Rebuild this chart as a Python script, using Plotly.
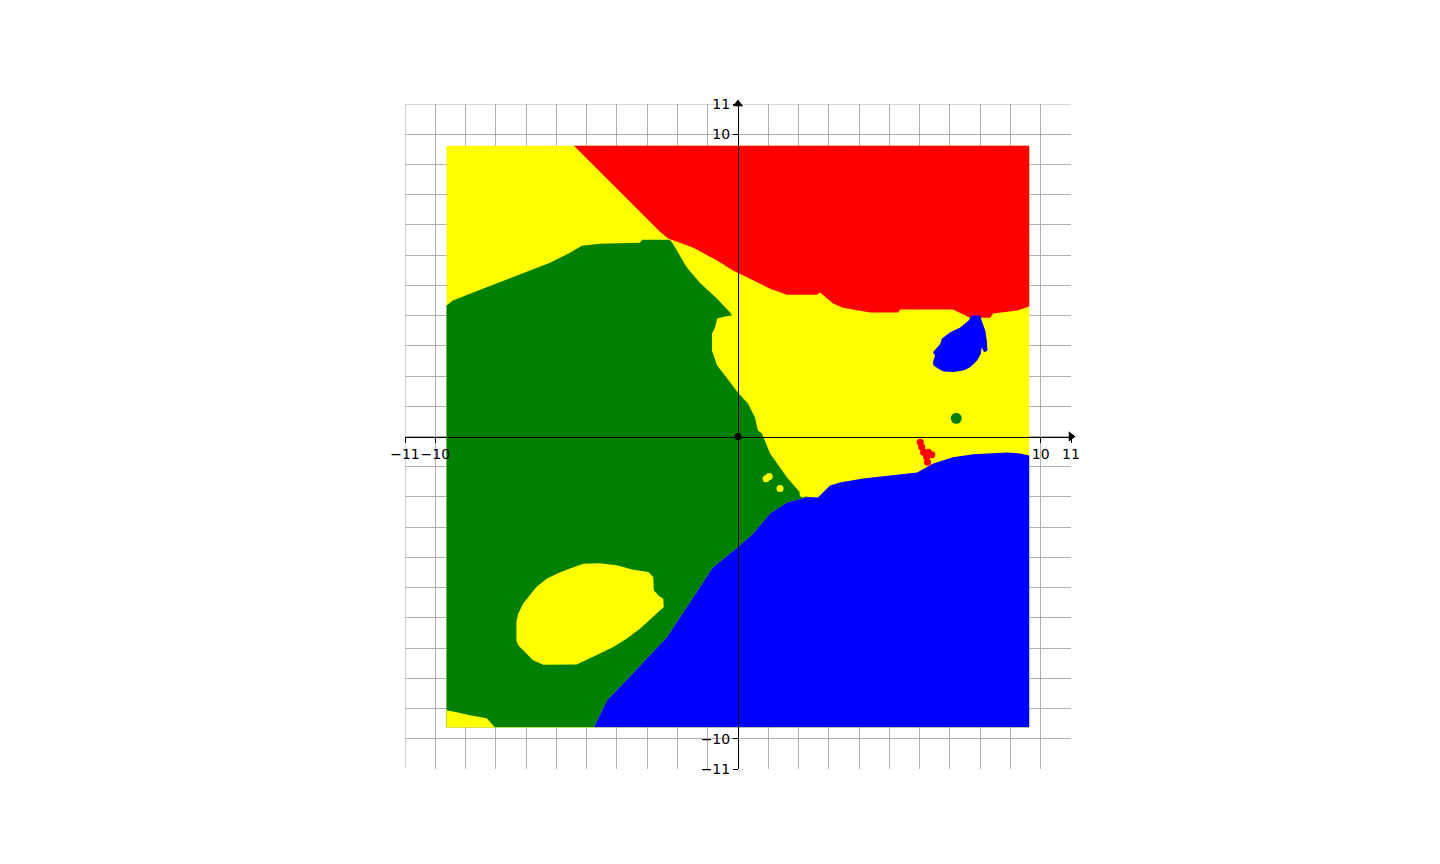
import plotly.graph_objects as go

# axis / ticks
axis_range = [-11, 11]
tick_vals = [-11, -10, 10, 11]

# extent of the classified grid
grid_lo, grid_hi = -9.63, 9.62

# class regions (polygon outlines)
red_x = [-5.42, -5.0, -4.5, -4.0, -3.5, -3.0, -2.6, -2.31, -1.49, -0.69, -0.17, 0.4, 1.06, 1.62,
         2.61, 2.71, 2.94, 3.14, 3.47, 4.36, 5.29, 5.36, 7.1, 7.67, 8.33, 8.43, 9.22, 9.62, 9.62]
red_y = [9.62, 9.2, 8.7, 8.2, 7.68, 7.17, 6.8, 6.55, 6.25, 5.82, 5.49, 5.22, 4.89, 4.69,
         4.69, 4.76, 4.56, 4.4, 4.26, 4.1, 4.1, 4.2, 4.2, 3.93, 3.93, 4.07, 4.17, 4.3, 9.62]

green_x = [-9.63, -9.42, -8.43, -7.31, -6.21, -5.55, -5.16, -4.56, -3.24, -3.17, -2.25, -2.15, -1.69,
           -1.26, -0.69, -0.26, -0.2, -0.43, -0.69, -0.76, -0.86, -0.86, -0.69, -0.43, -0.17, 0.0,
           0.33, 0.56, 0.66, 0.79, 1.06, 1.62, 2.05, 2.3,
           1.62, 1.06, 0.5, 0.07, -0.83, -1.49, -2.35, -3.47, -4.33, -4.76, -9.63]
green_y = [4.33, 4.5, 4.89, 5.32, 5.75, 6.08, 6.31, 6.38, 6.41, 6.51, 6.51, 6.38, 5.59,
           5.09, 4.56, 4.1, 4.0, 3.97, 3.9, 3.6, 3.4, 2.84, 2.35, 2.02, 1.69, 1.45,
           1.09, 0.63, 0.2, 0.1, -0.56, -1.36, -1.85, -2.0,
           -2.18, -2.55, -3.21, -3.6, -4.33, -5.32, -6.64, -7.83, -8.73, -9.62, -9.62]

blue_x = [-4.76, 9.62, 9.62, 9.32, 8.89, 8.23, 7.77, 7.1, 6.45, 5.92, 4.93, 4.13, 3.37, 3.04,
          2.64, 2.3, 1.62, 1.06, 0.5, 0.07, -0.83, -1.49, -2.35, -3.47, -4.33]
blue_y = [-9.62, -9.62, -0.63, -0.56, -0.53, -0.56, -0.59, -0.69, -0.89, -1.19, -1.29, -1.39, -1.52, -1.62,
          -2.02, -2.0, -2.18, -2.55, -3.21, -3.6, -4.33, -5.32, -6.64, -7.83, -8.73]

# yellow islands inside green
oval_x = [-7.32, -7.26, -7.10, -6.88, -6.66, -6.32, -5.99, -5.55, -5.11, -4.56, -4.01, -3.46, -2.96,
          -2.80, -2.78, -2.63, -2.47, -2.45, -2.80, -3.24, -3.68, -4.12, -4.56, -5.0, -5.33, -6.43,
          -6.77, -7.04, -7.26, -7.32]
oval_y = [-6.14, -5.86, -5.53, -5.26, -4.98, -4.71, -4.54, -4.37, -4.21, -4.19, -4.26, -4.41, -4.48,
          -4.65, -5.09, -5.26, -5.37, -5.64, -5.97, -6.36, -6.69, -6.96, -7.18, -7.40, -7.54, -7.55,
          -7.40, -7.13, -6.91, -6.74]
corner_x = [-9.63, -9.63, -9.29, -8.86, -8.3, -8.03]
corner_y = [-9.62, -9.06, -9.12, -9.22, -9.32, -9.62]

# blue island in the yellow region
island_x = [7.72, 8.0, 8.05, 8.17, 8.22, 8.24, 8.13, 8.05, 8.02, 7.89, 7.67, 7.45, 7.12, 6.79, 6.62,
            6.46, 6.44, 6.51, 6.44, 6.68, 6.73, 7.01, 7.34, 7.61]
island_y = [4.0, 4.0, 3.83, 3.5, 3.17, 2.84, 2.79, 2.95, 2.73, 2.51, 2.29, 2.18, 2.13, 2.15, 2.24,
            2.35, 2.46, 2.68, 2.79, 3.06, 3.23, 3.45, 3.61, 3.83]

# small stray points
red_pts_x = [6.02, 6.07, 6.13, 6.29, 6.40, 6.23, 6.26]
red_pts_y = [-0.19, -0.35, -0.52, -0.52, -0.60, -0.68, -0.85]
green_pts_x = [7.21]
green_pts_y = [0.6]
yellow_pts_x = [0.93, 1.03, 1.39, 2.15]
yellow_pts_y = [-1.4, -1.32, -1.72, -1.89]

GRID = "#b0b0b0"
fig = go.Figure()


def region(xs, ys, color):
    fig.add_trace(go.Scatter(x=xs, y=ys, fill="toself", fillcolor=color, mode="lines",
                             line=dict(width=0, color=color), hoverinfo="skip", showlegend=False))


def dots(xs, ys, color, size):
    fig.add_trace(go.Scatter(x=xs, y=ys, mode="markers", marker=dict(color=color, size=size, line=dict(width=0)),
                             hoverinfo="skip", showlegend=False))


region([grid_lo, grid_hi, grid_hi, grid_lo, grid_lo], [grid_lo, grid_lo, grid_hi, grid_hi, grid_lo], "yellow")
region(red_x, red_y, "red")
region(green_x, green_y, "green")
region(blue_x, blue_y, "blue")
region(oval_x, oval_y, "yellow")
region(corner_x, corner_y, "yellow")
region(island_x, island_y, "blue")
dots(red_pts_x, red_pts_y, "red", 7)
dots(green_pts_x, green_pts_y, "green", 11)
dots(yellow_pts_x, yellow_pts_y, "yellow", 7)

# origin dot and arrow heads
fig.add_trace(go.Scatter(x=[0], y=[0], mode="markers", marker=dict(color="black", size=7),
                         hoverinfo="skip", showlegend=False))
fig.add_trace(go.Scatter(x=[axis_range[1], 0], y=[0, axis_range[1]], mode="markers", cliponaxis=False,
                         marker=dict(color="black", size=9, symbol=["triangle-right", "triangle-up"]),
                         hoverinfo="skip", showlegend=False))

# outer grid lines on left and top edges (plotly skips them at the range limits)
fig.add_shape(type="line", x0=axis_range[0], x1=axis_range[0], y0=axis_range[0], y1=axis_range[1],
              line=dict(color=GRID, width=1), layer="below")
fig.add_shape(type="line", x0=axis_range[0], x1=axis_range[1], y0=axis_range[1], y1=axis_range[1],
              line=dict(color=GRID, width=1), layer="below")

tick_font = dict(family="DejaVu Sans", size=14, color="black")
common = dict(range=axis_range, anchor="free", position=0.5, showline=True, linecolor="black", linewidth=1,
              tickvals=tick_vals, ticks="outside", ticklen=5, tickcolor="black", tickfont=tick_font,
              tickangle=0, showgrid=True, gridcolor=GRID, gridwidth=1, zeroline=False, fixedrange=True,
              minor=dict(dtick=1, tick0=0, showgrid=True, gridcolor=GRID, gridwidth=1, ticks=""))

# page body adds 8px, so margins are shifted to keep the plot at the same spot
fig.update_layout(
    width=1440, height=864,
    margin=dict(l=397, r=377, t=96, b=103),
    plot_bgcolor="white", paper_bgcolor="white",
    xaxis=common, yaxis=common,
    showlegend=False,
)
fig.write_html("out.html")
